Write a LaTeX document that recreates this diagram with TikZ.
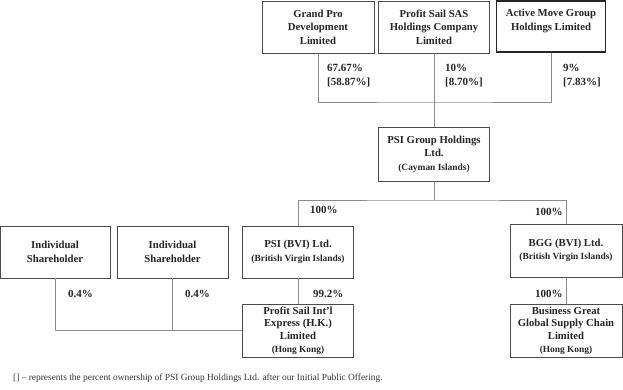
\documentclass[tikz,border=0pt]{standalone}
\usepackage{fontspec}
\setmainfont{Liberation Serif}
\newcommand\smalltxt{\fontsize{9.4}{11.5}\selectfont}
\begin{document}
\begin{tikzpicture}[x=1pt,y=-1pt,
  orgbox/.style={draw=black!70, line width=0.9pt, fill=white, inner sep=1pt,
    align=center, font=\fontsize{10.7}{13.5}\selectfont\bfseries, text=black!85},
  tightbox/.style={orgbox, font=\fontsize{10.7}{12.6}\selectfont\bfseries},
  conn/.style={draw=black!45, line width=0.7pt},
  pct/.style={anchor=west, inner sep=0pt, align=left,
    font=\fontsize{11}{14}\selectfont\bfseries, text=black!85}]
\useasboundingbox (0,0) rectangle (623,389);
% top shareholders
\node[orgbox, minimum width=112, minimum height=52] (gp) at (318,27) {Grand Pro\\Development\\Limited};
\node[orgbox, minimum width=111, minimum height=52] (ps) at (434,27) {Profit Sail SAS\\Holdings Company\\Limited};
\node[orgbox, minimum width=109, minimum height=51, line width=1.2pt, draw=black!85] (am) at (551,26.5) {Active Move Group\\Holdings Limited\\\mbox{}};
% holding company
\node[orgbox, minimum width=111, minimum height=54] (psig) at (434,154) {PSI Group Holdings\\Ltd.\\{\smalltxt(Cayman Islands)}};
% second level
\node[orgbox, minimum width=110, minimum height=52] (is1) at (55,252) {Individual\\Shareholder};
\node[orgbox, minimum width=111, minimum height=52] (is2) at (172.5,252) {Individual\\Shareholder};
\node[orgbox, minimum width=111, minimum height=52] (bvi) at (298,252) {PSI (BVI) Ltd.\\{\smalltxt(British Virgin Islands)}};
\node[orgbox, minimum width=112, minimum height=53] (bgg) at (566,250.5) {BGG (BVI) Ltd.\\{\smalltxt(British Virgin Islands)}};
% third level
\node[tightbox, minimum width=111, minimum height=53] (pshk) at (298,330.5) {Profit Sail Int'l\\Express (H.K.)\\Limited\\{\smalltxt(Hong Kong)}};
\node[tightbox, minimum width=112, minimum height=53] (bg) at (566,330.5) {Business Great\\Global Supply Chain\\Limited\\{\smalltxt(Hong Kong)}};
% connectors
\coordinate (j1) at (434,102);
\coordinate (j2) at (434,200);
\draw[conn] (gp.south) |- (j1) -| (am.south);
\draw[conn] (ps.south) -- (psig.north);
\draw[conn] (psig.south) -- (j2);
\draw[conn] (bvi.north) |- (j2) -| (bgg.north);
\draw[conn] (bvi.south) -- (pshk.north);
\draw[conn] (bgg.south) -- (bg.north);
\draw[conn] (is1.south) |- (pshk.west);
\draw[conn] (is2.south) -- (is2.south |- pshk.west);
% percentages
\node[pct] (p1) at (327,76) {67.67\%\\{[}58.87\%{]}};
\node[pct] (p2) at (445,76) {10\%\\{[}8.70\%{]}};
\node[pct] (p3) at (563,76) {9\%\\{[}7.83\%{]}};
\node[pct] (p4) at (310,210) {100\%};
\node[pct] (p5) at (535,212) {100\%};
\node[pct] (p6) at (313,293.5) {99.2\%};
\node[pct] (p7) at (68,293.5) {0.4\%};
\node[pct] (p8) at (185,293.5) {0.4\%};
\node[pct] (p9) at (535,293.5) {100\%};
% footnote
\node[anchor=west, inner sep=0pt, font=\fontsize{9.4}{11}\selectfont, text=black!80] (fn) at (13,378)
  {[] -- represents the percent ownership of PSI Group Holdings Ltd. after our Initial Public Offering.};
\end{tikzpicture}
\end{document}
